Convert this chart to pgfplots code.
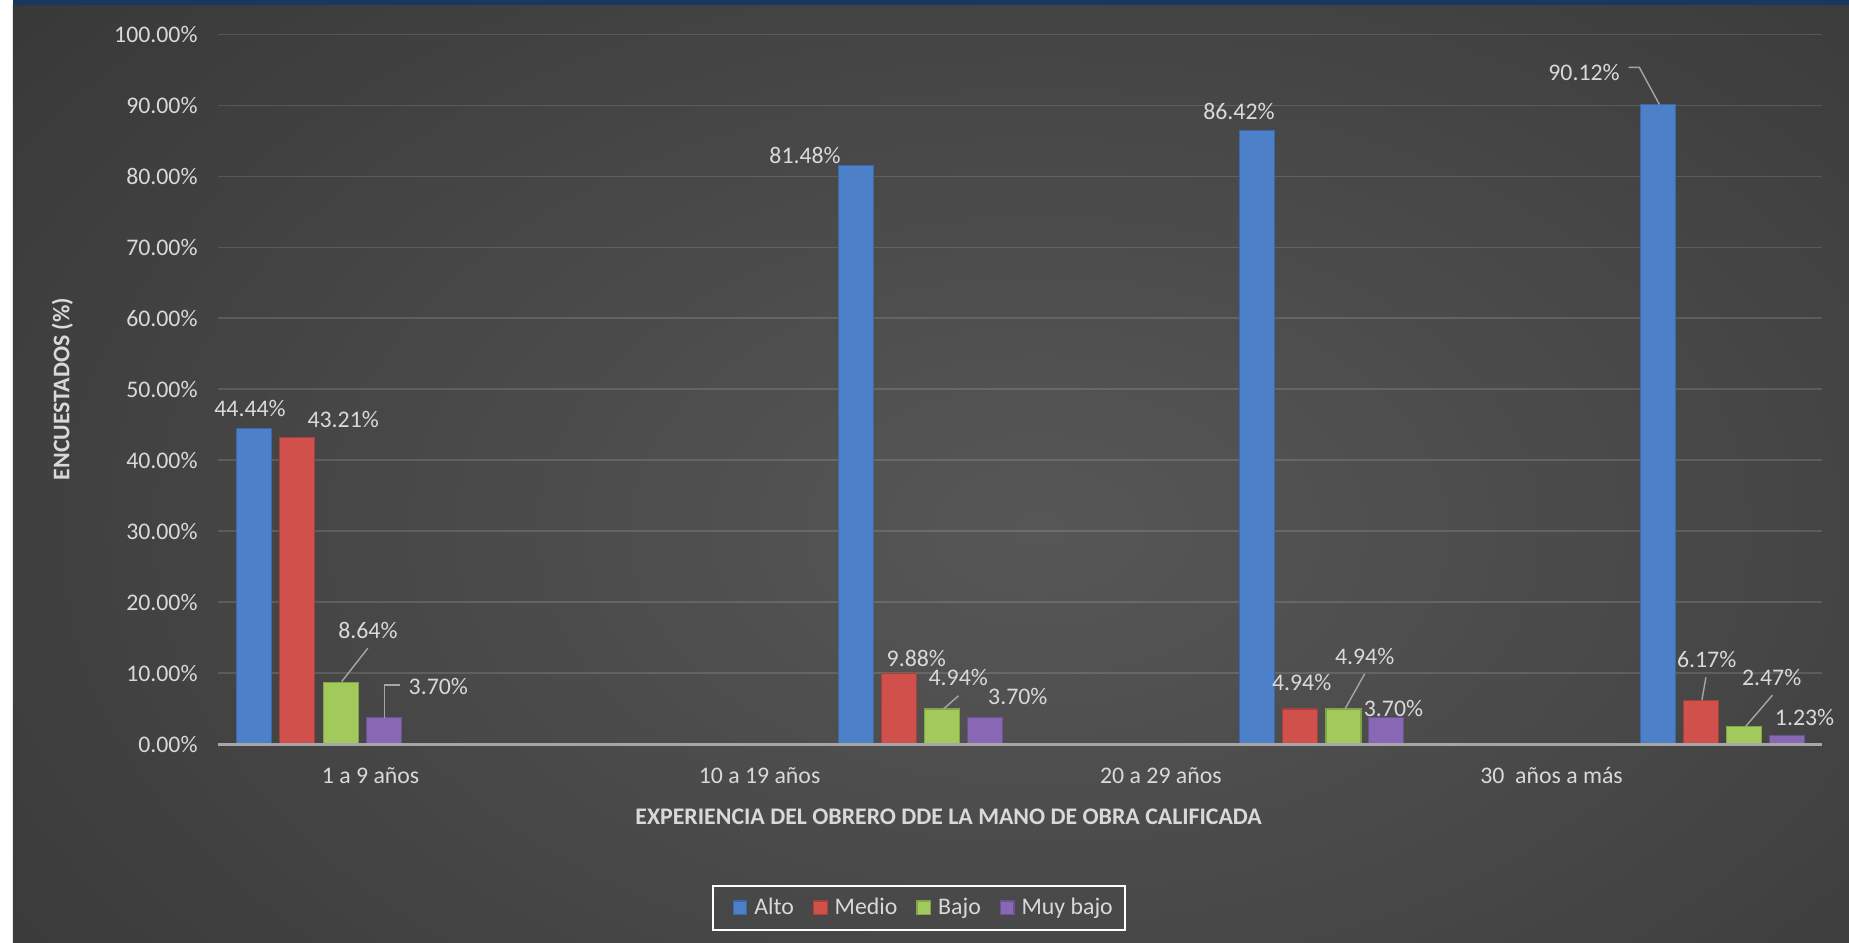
\documentclass[border=0pt]{standalone}
\usepackage{pgfplots}
\pgfplotsset{compat=1.18}
\usepackage{pgfplotstable}
\usepackage{fontspec}
\setmainfont{Carlito}
\definecolor{txt}{HTML}{D9D9D9}
\definecolor{bgL}{HTML}{575757}
\definecolor{bgD}{HTML}{262626}
\definecolor{topblue}{HTML}{19375F}
\definecolor{baseC}{HTML}{A6A6A6}
\definecolor{leadC}{HTML}{A6A6A6}
\definecolor{blueM}{HTML}{4C80C8}
\definecolor{blueD}{HTML}{3B69A8}
\definecolor{redM}{HTML}{D0514C}
\definecolor{redD}{HTML}{A93E3A}
\definecolor{greenM}{HTML}{A2C95C}
\definecolor{greenD}{HTML}{83A645}
\definecolor{purpM}{HTML}{8868B4}
\definecolor{purpD}{HTML}{6C5292}
\pgfdeclareradialshading{bgshade}{\pgfpointorigin}{color(0bp)=(bgL); color(50bp)=(bgD); color(100bp)=(bgD)}
\newcommand\fs{\fontsize{11.9}{14}\selectfont}
\tikzset{lbl/.style={font=\fs, text=txt, inner sep=0pt, anchor=center},
  leader/.style={draw=leadC, line width=0.7pt}}

\pgfplotstableread{
x y
0.090 44.44
1.590 81.48
2.591 86.42
3.590 90.12
}\alto
\pgfplotstableread{
x y
0.197 43.21
1.698 9.88
2.698 4.94
3.698 6.17
}\medio
\pgfplotstableread{
x y
0.307 8.64
1.805 4.94
2.806 4.94
3.805 2.47
}\bajo
\pgfplotstableread{
x y
0.413 3.70
1.913 3.70
2.913 3.70
3.913 1.23
}\muybajo

\begin{document}
\begin{tikzpicture}
\useasboundingbox (-109.1pt,-99.5pt) rectangle (815.4pt,372pt);
\fill[white] (-109.1pt,-99.5pt) rectangle (-102.6pt,372pt);
\begin{scope}
\clip (-102.6pt,-99.5pt) rectangle (815.4pt,369.5pt);
\shade[shading=bgshade] (-120pt,-223pt) rectangle (940pt,437pt);
\end{scope}
\fill[topblue] (-102.6pt,369.5pt) rectangle (815.4pt,372pt);
\begin{axis}[
  at={(0,0)}, anchor=south west,
  scale only axis, width=802pt, height=354.85pt,
  xmin=0, xmax=4, ymin=0, ymax=100,
  clip=false,
  axis line style={draw=none}, tick style={draw=none},
  ytick={0,10,...,100},
  yticklabels={0.00\%,10.00\%,20.00\%,30.00\%,40.00\%,50.00\%,60.00\%,70.00\%,80.00\%,90.00\%,100.00\%},
  xtick={0.380,1.350,2.351,3.325},
  xticklabels={1 a 9 años,10 a 19 años,20 a 29 años,30\ \ años a más},
  ymajorgrids, major grid style={white, opacity=0.13, line width=0.7pt},
  ticklabel style={font=\fs, text=txt},
  yticklabel style={xshift=-6.8pt},
  xticklabel style={anchor=base, yshift=-15.4pt},
  xlabel={EXPERIENCIA DEL OBRERO DDE LA MANO DE OBRA CALIFICADA},
  xlabel style={at={(axis description cs:0.4554,-0.1031)}, anchor=center, font=\fs\bfseries, text=txt},
  ylabel={ENCUESTADOS (\%)},
  ylabel style={at={(axis description cs:-0.0971,0.5002)}, anchor=center, font=\fs\bfseries, text=txt},
  ybar, bar width=0.0873, bar shift=0pt,
  legend columns=-1,
  legend style={at={(axis description cs:0.4369,-0.2308)}, anchor=center,
    draw=white, line width=1pt, fill=none, text=txt, font=\fs,
    inner xsep=4pt, inner ysep=4.2pt,
    /tikz/every even column/.append style={column sep=1.8pt}},
  every axis plot post/.append style={legend image code/.code={\path[draw=none,fill=none] (0pt,0pt) (14.6pt,0pt); \path[##1] (6pt,-3.4pt) rectangle (12.8pt,3.4pt);}},
]
\addplot[fill=blueM, draw=blueD, line width=0.6pt] table {\alto};
\addlegendentry{Alto}
\addplot[fill=redM, draw=redD, line width=0.6pt] table {\medio};
\addlegendentry{Medio}
\addplot[fill=greenM, draw=greenD, line width=0.6pt] table {\bajo};
\addlegendentry{Bajo}
\addplot[fill=purpM, draw=purpD, line width=0.6pt] table {\muybajo};
\addlegendentry{Muy bajo}

\draw[baseC, line width=1.5pt] (axis cs:0,0) -- (axis cs:4,0);

\node[lbl] at (axis cs:0.0794,47.33) {44.44\%};
\node[lbl] at (axis cs:0.3118,45.78) {43.21\%};
\node[lbl] at (axis cs:0.3735,15.97) {8.64\%};
\draw[leader] (axis cs:0.308,8.79) -- (axis cs:0.373,13.49);
\node[lbl] at (axis cs:0.549,8.07) {3.70\%};
\draw[leader] (axis cs:0.4144,3.70) -- (axis cs:0.4144,8.31) -- (axis cs:0.4535,8.31);

\node[lbl] at (axis cs:1.4636,82.98) {81.48\%};
\node[lbl] at (axis cs:1.741,12.11) {9.88\%};
\node[lbl] at (axis cs:1.8456,9.39) {4.94\%};
\draw[leader] (axis cs:1.809,4.94) -- (axis cs:1.846,6.79);
\node[lbl] at (axis cs:1.994,6.63) {3.70\%};

\node[lbl] at (axis cs:2.5456,89.19) {86.42\%};
\node[lbl] at (axis cs:2.702,8.62) {4.94\%};
\node[lbl] at (axis cs:2.859,12.28) {4.94\%};
\draw[leader] (axis cs:2.81,4.94) -- (axis cs:2.859,9.88);
\node[lbl] at (axis cs:2.931,5.07) {3.70\%};

\node[lbl] at (axis cs:3.406,94.6) {90.12\%};
\draw[leader] (axis cs:3.594,90.12) -- (axis cs:3.544,95.33) -- (axis cs:3.517,95.33);
\node[lbl] at (axis cs:3.712,11.94) {6.17\%};
\draw[leader] (axis cs:3.700,6.17) -- (axis cs:3.710,9.39);
\node[lbl] at (axis cs:3.874,9.39) {2.47\%};
\draw[leader] (axis cs:3.809,2.47) -- (axis cs:3.876,6.88);
\node[lbl] at (axis cs:3.956,3.72) {1.23\%};
\end{axis}
\end{tikzpicture}
\end{document}
